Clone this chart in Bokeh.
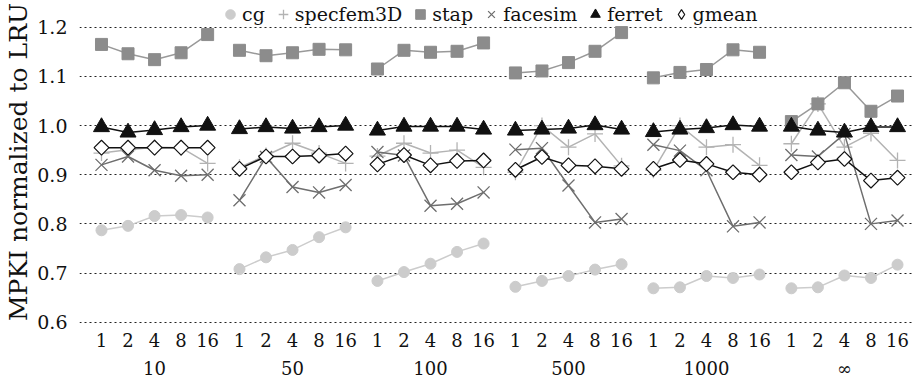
import math
from bokeh.plotting import figure
from bokeh.models import (Range1d, FixedTicker, LinearAxis, Legend, LegendItem,
                          CustomJSTickFormatter, PrintfTickFormatter)
from bokeh.embed import file_html
from bokeh.resources import INLINE

# ---------------- data ----------------
groups = ["10", "50", "100", "500", "1000", "\u221e"]
subgroups = ["1", "2", "4", "8", "16"]

cg = [0.787, 0.796, 0.816, 0.818, 0.813,
      0.708, 0.732, 0.747, 0.773, 0.793,
      0.684, 0.702, 0.719, 0.743, 0.760,
      0.672, 0.684, 0.694, 0.707, 0.718,
      0.669, 0.671, 0.694, 0.690, 0.697,
      0.669, 0.671, 0.695, 0.690, 0.717]
specfem3D = [0.944, 0.951, 0.956, 0.955, 0.923,
             0.915, 0.939, 0.964, 0.944, 0.923,
             0.938, 0.964, 0.944, 0.950, 0.915,
             0.905, 1.000, 0.956, 0.983, 0.918,
             0.909, 1.000, 0.956, 0.961, 0.919,
             0.963, 1.044, 0.956, 0.984, 0.929]
stap = [1.165, 1.146, 1.134, 1.148, 1.185,
        1.153, 1.142, 1.148, 1.155, 1.154,
        1.115, 1.153, 1.149, 1.151, 1.168,
        1.107, 1.111, 1.128, 1.151, 1.189,
        1.097, 1.108, 1.114, 1.154, 1.149,
        1.008, 1.044, 1.087, 1.029, 1.060]
facesim = [0.920, 0.937, 0.909, 0.898, 0.900,
           0.848, 0.936, 0.875, 0.864, 0.879,
           0.946, 0.939, 0.837, 0.841, 0.864,
           0.951, 0.954, 0.878, 0.803, 0.810,
           0.961, 0.949, 0.909, 0.795, 0.803,
           0.940, 0.937, 0.983, 0.800, 0.807]
ferret = [0.997, 0.986, 0.991, 0.997, 1.000,
          0.993, 0.997, 0.994, 0.997, 1.000,
          0.990, 0.998, 0.998, 0.998, 0.992,
          0.990, 0.992, 0.994, 1.001, 0.992,
          0.987, 0.992, 0.995, 1.001, 0.998,
          0.998, 0.990, 0.986, 0.997, 0.997]
gmean = [0.955, 0.955, 0.955, 0.955, 0.955,
         0.912, 0.937, 0.937, 0.939, 0.943,
         0.921, 0.940, 0.919, 0.928, 0.929,
         0.910, 0.936, 0.919, 0.917, 0.912,
         0.912, 0.930, 0.922, 0.905, 0.900,
         0.905, 0.925, 0.932, 0.888, 0.894]

y_ticks = [0.6, 0.7, 0.8, 0.9, 1.0, 1.1, 1.2]

# ---------------- layout helpers ----------------
STEP = 5          # distance between sub-ticks
GSTEP = 26        # distance between groups (5 steps + small gap)
pos = [g * GSTEP + i * STEP for g in range(len(groups)) for i in range(len(subgroups))]
sub_labels = [subgroups[i] for g in range(len(groups)) for i in range(len(subgroups))]
group_pos = [g * GSTEP + 2 * STEP for g in range(len(groups))]

FONT = "DejaVu Serif"

p = figure(width=914, height=383, output_backend="svg", toolbar_location=None,
           x_range=Range1d(-4.145, 153.2), y_range=Range1d(0.5974, 1.2543),
           min_border_left=79, min_border_right=0, min_border_top=0, min_border_bottom=60)
p.outline_line_color = None
p.background_fill_color = "white"
p.border_fill_color = "white"

# grid
p.xgrid.visible = False
p.ygrid.ticker = FixedTicker(ticks=y_ticks)
p.ygrid.grid_line_color = "#222222"
p.ygrid.grid_line_dash = "2 3"
p.ygrid.grid_line_width = 1

# y axis
yax = p.yaxis[0]
yax.ticker = FixedTicker(ticks=y_ticks, minor_ticks=[])
yax.formatter = PrintfTickFormatter(format="%.1f")
yax.axis_line_color = None
yax.major_tick_line_color = None
yax.minor_tick_line_color = None
yax.major_label_standoff = 6
yax.major_label_text_font = FONT
yax.major_label_text_font_size = "19px"
yax.major_label_text_color = "#111111"
yax.axis_label = "MPKI normalized to LRU"
yax.axis_label_text_font = FONT
yax.axis_label_text_font_size = "25px"
yax.axis_label_text_font_style = "normal"
yax.axis_label_text_color = "#111111"
yax.axis_label_standoff = 1

# x axis (sub labels)
xax = p.xaxis[0]
xax.ticker = FixedTicker(ticks=pos, minor_ticks=[])
xax.formatter = CustomJSTickFormatter(args=dict(pos=pos, labels=sub_labels),
    code="const i = pos.indexOf(tick); return i >= 0 ? labels[i] : '';")
xax.axis_line_color = None
xax.major_tick_line_color = None
xax.minor_tick_line_color = None
xax.major_label_standoff = 3
xax.major_label_text_font = FONT
xax.major_label_text_font_size = "18px"
xax.major_label_text_color = "#111111"

# x axis (group labels)
gax = LinearAxis(ticker=FixedTicker(ticks=group_pos, minor_ticks=[]),
                 formatter=CustomJSTickFormatter(args=dict(pos=group_pos, labels=groups),
                     code="const i = pos.indexOf(tick); return i >= 0 ? labels[i] : '';"))
gax.axis_line_color = None
gax.major_tick_line_color = None
gax.minor_tick_line_color = None
gax.major_label_standoff = 2
gax.major_label_text_font = FONT
gax.major_label_text_font_size = "18px"
gax.major_label_text_color = "#111111"
p.add_layout(gax, "below")

# ---------------- series ----------------
series = [
    ("cg", cg, "#cccccc", dict(marker="circle", size=11, fill_color="#cccccc", line_color="#cccccc"), None),
    ("specfem3D", specfem3D, "#b3b3b3", dict(marker="cross", size=16, line_color="#b3b3b3", line_width=1.3), None),
    ("stap", stap, "#999999", dict(marker="square", size=12, fill_color="#8c8c8c", line_color="#8c8c8c"), None),
    ("facesim", facesim, "#6e6e6e", dict(marker="x", size=17, line_color="#6e6e6e", line_width=1.3), None),
    ("ferret", ferret, "#111111", dict(marker="triangle", size=16, fill_color="#111111", line_color="#111111"), None),
    ("gmean", gmean, "#111111", dict(marker="square", size=10.5, angle=math.pi / 4,
                                     fill_color="white", line_color="#111111", line_width=1.2),
     dict(marker="diamond", size=12, fill_color="white", line_color="#111111", line_width=1.2)),
]

n = len(subgroups)
items = []
for name, vals, lc, mk, legend_mk in series:
    xs = [pos[g * n:(g + 1) * n] for g in range(len(groups))]
    ys = [vals[g * n:(g + 1) * n] for g in range(len(groups))]
    p.multi_line(xs=xs, ys=ys, line_color=lc, line_width=1.5)
    r = p.scatter(x=pos, y=vals, **mk)
    if legend_mk is not None:
        # hidden twin used only as the legend swatch (legend draws markers unrotated)
        r = p.scatter(x=pos, y=vals, visible=False, **legend_mk)
    items.append(LegendItem(label=name, renderers=[r]))

legend = Legend(items=items, orientation="horizontal", location=(139, 297),
                glyph_width=24, glyph_height=24, label_standoff=0, spacing=6,
                padding=0, margin=0, border_line_color=None, background_fill_alpha=0,
                inactive_fill_alpha=0,
                label_text_font=FONT, label_text_font_size="19px", label_text_color="#111111")
p.add_layout(legend)

open("out.html", "w").write(file_html(p, INLINE))
